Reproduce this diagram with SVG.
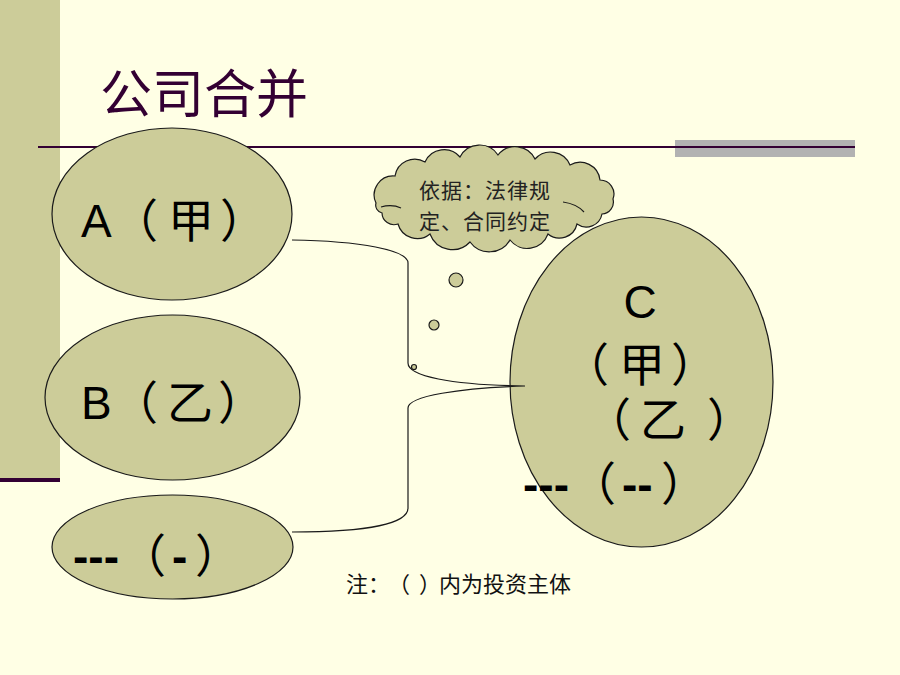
<svg xmlns="http://www.w3.org/2000/svg" width="900" height="675" viewBox="0 0 900 675">
  <style>
    text { text-spacing-trim: space-all; }
    .node { fill: #CCCC99; stroke: #1a1a1a; stroke-width: 1.2; }
    .big { font-family: "Liberation Sans", "Noto Sans CJK SC", sans-serif; font-size: 46px; fill: #000; }
    .dash { font-weight: bold; }
    .small { font-family: "Noto Sans CJK SC", sans-serif; font-size: 21px; letter-spacing: 1px; fill: #222; }
    .conn { fill: none; stroke: #1a1a1a; stroke-width: 1.2; }
  </style>
  <rect x="0" y="0" width="900" height="675" fill="#FFFFE5"/>
  <g id="decor">
    <rect x="0" y="0" width="60" height="478" fill="#CCCC99"/>
    <rect x="0" y="478" width="60" height="4" fill="#330033"/>
    <rect x="675" y="140" width="180" height="17" fill="#B2B2B2"/>
    <line x1="38" y1="147" x2="855" y2="147" stroke="#330033" stroke-width="2"/>
  </g>
  <g id="title">
    <text x="100" y="113" font-family="Noto Sans CJK SC, sans-serif" font-size="52" fill="#330033">公司合并</text>
  </g>
  <g id="node-a">
    <ellipse class="node" cx="172" cy="214" rx="120" ry="86"/>
    <text class="big" y="237"><tspan x="81">A</tspan><tspan x="112">（</tspan><tspan x="168">甲</tspan><tspan x="220">）</tspan></text>
  </g>
  <g id="node-b">
    <ellipse class="node" cx="172.5" cy="397.5" rx="127.5" ry="82.5"/>
    <text class="big" y="419"><tspan x="81">B</tspan><tspan x="112">（</tspan><tspan x="167">乙</tspan><tspan x="218">）</tspan></text>
  </g>
  <g id="node-other">
    <ellipse class="node" cx="172.5" cy="547" rx="120.5" ry="52"/>
    <text class="big" y="572"><tspan x="73" class="dash">---</tspan><tspan x="120">（</tspan><tspan x="172" class="dash">-</tspan><tspan x="195">）</tspan></text>
  </g>
  <g id="node-c">
    <ellipse class="node" cx="641.5" cy="382" rx="131.5" ry="165"/>
    <text class="big" x="640" y="318" text-anchor="middle" font-size="50">C</text>
    <text class="big" y="381"><tspan x="563">（</tspan><tspan x="619">甲</tspan><tspan x="671">）</tspan></text>
    <text class="big" y="436"><tspan x="585">（</tspan><tspan x="640">乙</tspan><tspan x="707">）</tspan></text>
    <text class="big" y="500"><tspan x="523" class="dash">---</tspan><tspan x="570">（</tspan><tspan x="622" class="dash">--</tspan><tspan x="661">）</tspan></text>
  </g>
  <g id="connectors">
    <path class="conn" d="M292,240 C360,241 408,250 408,263 L408,363 C408,376 450,385 525,386 C460,388 408,396 408,408 L408,508 C408,523 370,532 292,532"/>
  </g>
  <g id="callout">
    <path class="node" d="M376,203 A19,19 0 0 1 395,176 A20,20 0 0 1 425,162 A21,21 0 0 1 460,157 A22,22 0 0 1 498,155 A22,22 0 0 1 535,159 A21,21 0 0 1 570,165 A20,20 0 0 1 600,180 A14,14 0 0 1 613,199 A12,12 0 0 1 602,214 A16,16 0 0 1 577,224 A18,18 0 0 1 548,234 A22,22 0 0 1 510,240 A24,24 0 0 1 470,242 A24,24 0 0 1 430,234 A20,20 0 0 1 398,224 A12,12 0 0 1 382,213 A8,8 0 0 1 376,203 Z"/>
    <path class="conn" d="M381,207 Q392,204 401,208 M563,202 Q577,204 584,212"/>
    <circle class="node" cx="456" cy="280" r="7"/>
    <circle class="node" cx="434" cy="325" r="5"/>
    <circle class="node" cx="414" cy="367" r="2.5"/>
    <text class="small" x="419" y="198">依据：法律规</text>
    <text class="small" x="419" y="229">定、合同约定</text>
  </g>
  <g id="note">
    <text y="592" font-family="Noto Sans CJK SC, sans-serif" font-size="22" fill="#111"><tspan x="346">注：</tspan><tspan x="388">（</tspan><tspan x="419">）</tspan><tspan x="439">内为投资主体</tspan></text>
  </g>
</svg>
